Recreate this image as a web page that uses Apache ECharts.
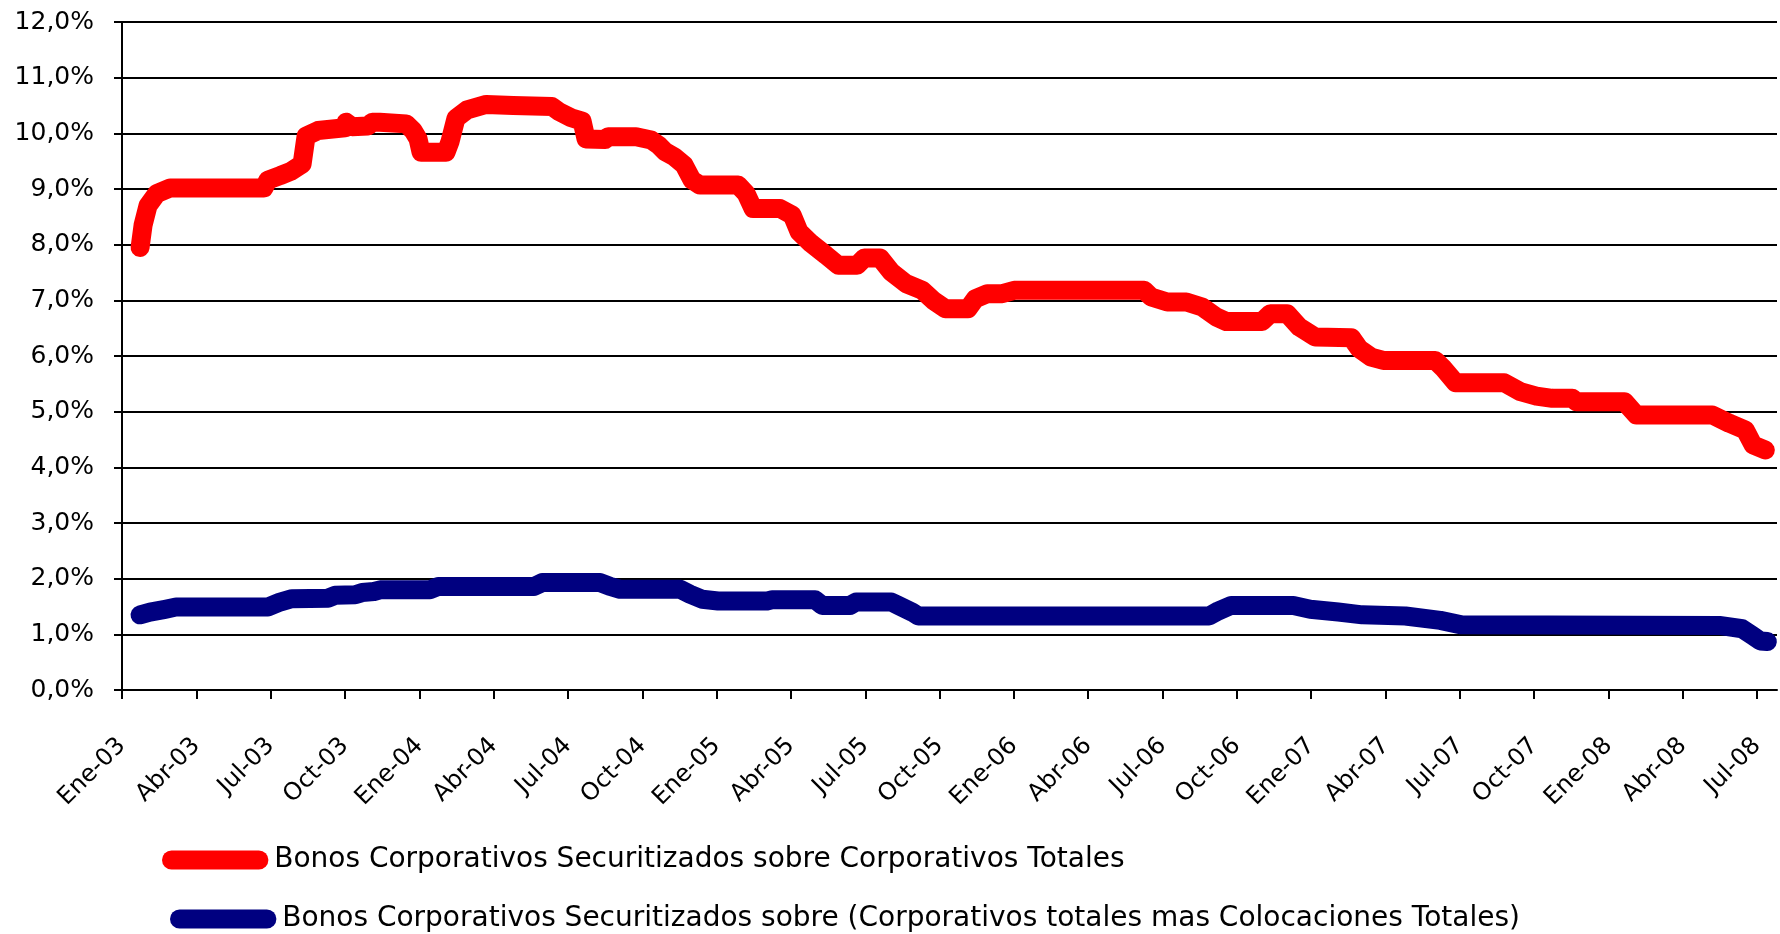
<!DOCTYPE html>
<html>
<head>
<meta charset="utf-8">
<title>Bonos securitizados</title>
<script src="https://cdn.jsdelivr.net/npm/echarts@6.0.0/dist/echarts.min.js"></script>
<style>
  html, body { margin: 0; padding: 0; background: #fff; }
  #chart { width: 1780px; height: 934px; }
</style>
</head>
<body>
<div id="chart"></div>
<script>
// etiquetas del eje x, una cada 3 meses desde Ene-03
const etiquetas = ['Ene-03', 'Abr-03', 'Jul-03', 'Oct-03', 'Ene-04', 'Abr-04', 'Jul-04', 'Oct-04',
  'Ene-05', 'Abr-05', 'Jul-05', 'Oct-05', 'Ene-06', 'Abr-06', 'Jul-06', 'Oct-06',
  'Ene-07', 'Abr-07', 'Jul-07', 'Oct-07', 'Ene-08', 'Abr-08', 'Jul-08'];

// meses contados desde Ene-03, y valores en %
const mesesRojo = [0.73, 0.85, 1.05, 1.41, 1.94, 5.73, 5.89, 6.38, 6.82, 7.1, 7.27, 7.43, 7.91, 9.0, 9.04,
  9.29, 9.93, 10.1, 10.4, 11.47, 11.75, 11.95, 12.07, 13.08, 13.24, 13.48, 13.93, 14.7, 15.79, 17.36,
  17.64, 18.13, 18.57, 18.73, 19.5, 19.62, 20.75, 21.36, 21.68, 21.92, 22.29, 22.69, 23.01, 23.33, 24.87,
  25.19, 25.47, 26.56, 27.05, 27.33, 27.82, 28.42, 28.91, 29.67, 29.96, 30.6, 31.05, 31.65, 32.3, 32.74,
  33.23, 34.15, 34.44, 34.92, 35.53, 36.01, 41.26, 41.54, 42.19, 42.96, 43.6, 44.17, 44.57, 46.02, 46.35,
  47.03, 47.52, 48.16, 49.62, 49.94, 50.42, 50.91, 53.01, 53.33, 53.82, 55.79, 56.44, 57.09, 57.73, 58.54,
  58.7, 60.64, 61.12, 64.19, 64.88, 65.52, 65.84, 66.33];
const rojo = [7.95, 8.35, 8.7, 8.92, 9.02, 9.02, 9.16, 9.24, 9.32, 9.4, 9.45, 9.95, 10.05, 10.1, 10.2,
  10.12, 10.13, 10.2, 10.2, 10.17, 10.05, 9.9, 9.66, 9.66, 9.85, 10.27, 10.42, 10.52, 10.5, 10.48,
  10.39, 10.28, 10.22, 9.9, 9.89, 9.94, 9.94, 9.88, 9.78, 9.67, 9.58, 9.43, 9.16, 9.07, 9.07,
  8.92, 8.65, 8.65, 8.53, 8.23, 8.02, 7.81, 7.63, 7.63, 7.76, 7.76, 7.51, 7.3, 7.18, 7.0,
  6.85, 6.85, 7.03, 7.12, 7.12, 7.18, 7.18, 7.06, 6.97, 6.97, 6.88, 6.7, 6.62, 6.62, 6.76,
  6.76, 6.52, 6.34, 6.33, 6.13, 5.98, 5.92, 5.92, 5.78, 5.52, 5.52, 5.36, 5.28, 5.24, 5.24,
  5.18, 5.18, 4.94, 4.94, 4.79, 4.67, 4.4, 4.31];

const mesesAzul = [0.73, 1.13, 1.74, 2.18, 5.89, 6.38, 6.86, 8.32, 8.6, 9.41, 9.69, 10.17, 10.42, 12.43,
  12.76, 16.63, 16.96, 19.3, 19.7, 20.1, 22.53, 22.93, 23.42, 24.06, 26.04, 26.24, 27.98, 28.26, 29.39,
  29.63, 31.05, 31.33, 31.89, 32.14, 43.88, 44.25, 44.77, 47.28, 47.96, 49.09, 50.06, 51.8, 53.21, 54.06,
  64.47, 65.4, 65.8, 66.13, 66.41];
const azul = [1.35, 1.4, 1.45, 1.49, 1.49, 1.58, 1.64, 1.65, 1.7, 1.71, 1.75, 1.77, 1.8, 1.8,
  1.86, 1.86, 1.93, 1.93, 1.86, 1.81, 1.81, 1.72, 1.63, 1.6, 1.6, 1.62, 1.62, 1.52, 1.52,
  1.58, 1.58, 1.52, 1.4, 1.33, 1.33, 1.42, 1.52, 1.52, 1.45, 1.4, 1.35, 1.33, 1.25, 1.17,
  1.16, 1.1, 0.98, 0.88, 0.87];

const nombres = ['Bonos Corporativos Securitizados sobre Corporativos Totales',
  'Bonos Corporativos Securitizados sobre (Corporativos totales mas Colocaciones Totales)'];

const ticksX = etiquetas.map((e, i) => i * 3);
const fuente = 'DejaVu Sans';
const capsula = 'path://M10,0 L102,0 A10,10 0 0 1 102,20 L10,20 A10,10 0 0 1 10,0 Z';

// una leyenda por serie, apiladas
function leyenda(nombre, left, top, ancho) {
  return {
    left: left,
    top: top,
    padding: 0,
    itemWidth: ancho,
    itemHeight: 19,
    icon: capsula,
    textStyle: { fontFamily: fuente, fontSize: 28, color: '#000' },
    data: [nombre]
  };
}

let chart = echarts.init(document.getElementById('chart'));

let option = {
  backgroundColor: '#fff',
  animation: false,
  textStyle: { fontFamily: fuente, color: '#000' },
  grid: {
    left: 122,
    right: 3,
    top: 22,
    bottom: 244,
    containLabel: false,
    outerBoundsMode: 'none'
  },
  legend: [
    leyenda(nombres[0], 162, 846, 108),
    leyenda(nombres[1], 170, 905, 108)
  ],
  xAxis: {
    type: 'value',
    min: 0,
    max: 66.8,
    interval: 3,
    axisLine: { show: true, lineStyle: { color: '#000', width: 2 } },
    axisTick: { show: true, length: 9, customValues: ticksX, lineStyle: { color: '#000', width: 2 } },
    splitLine: { show: false },
    axisLabel: {
      customValues: ticksX,
      rotate: 45,
      margin: 52,
      fontFamily: fuente,
      fontSize: 24,
      color: '#000',
      formatter: (v) => etiquetas[Math.round(v / 3)] || ''
    }
  },
  yAxis: {
    type: 'value',
    min: 0,
    max: 12,
    interval: 1,
    axisLine: { show: true, lineStyle: { color: '#000', width: 2 } },
    axisTick: { show: true, length: 8, lineStyle: { color: '#000', width: 2 } },
    splitLine: { show: true, lineStyle: { color: '#000', width: 2 } },
    axisLabel: {
      margin: 28,
      fontFamily: fuente,
      fontSize: 25,
      color: '#000',
      formatter: (v) => v.toFixed(1).replace('.', ',') + '%'
    }
  },
  series: [{
    name: nombres[0],
    type: 'line',
    symbol: 'none',
    color: '#ff0000',
    lineStyle: { width: 19, color: '#ff0000', cap: 'round', join: 'round' },
    data: mesesRojo.map((m, i) => [m, rojo[i]])
  }, {
    name: nombres[1],
    type: 'line',
    symbol: 'none',
    color: '#000080',
    lineStyle: { width: 19, color: '#000080', cap: 'round', join: 'round' },
    data: mesesAzul.map((m, i) => [m, azul[i]])
  }]
};

chart.setOption(option);
</script>
</body>
</html>
